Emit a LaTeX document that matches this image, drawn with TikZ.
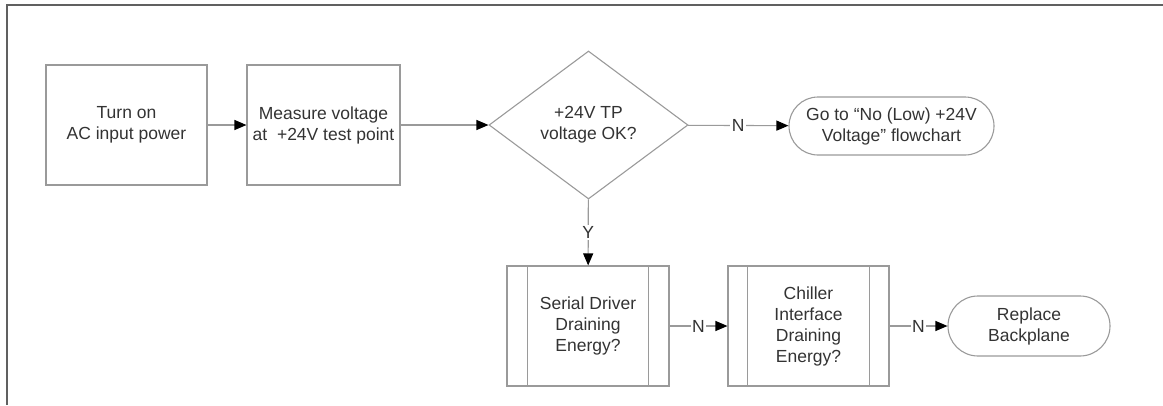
\documentclass[tikz,border=0pt]{standalone}
\usepackage{fontspec}
\setmainfont{Liberation Sans}
\usetikzlibrary{shapes.geometric,shapes.misc,arrows.meta,calc}
\definecolor{txt}{HTML}{333333}
\definecolor{edge}{HTML}{9A9A9A}
\definecolor{frame}{HTML}{606060}
\begin{document}
\begin{tikzpicture}[x=1pt,y=-1pt,
  every node/.style={font=\fontsize{17.5}{21}\selectfont, text=txt, align=center},
  procbox/.style={draw=edge, line width=1.1pt, rectangle, inner sep=0pt},
  decbox/.style={draw=edge, line width=1.1pt, diamond, inner sep=0pt, minimum width=199pt, minimum height=148pt},
  termbox/.style={draw=edge, line width=1.1pt, rounded rectangle, inner sep=0pt},
  conn/.style={draw=edge, line width=1.1pt, -{Triangle[length=12pt,width=10pt,fill=black,color=black]}},
  lbl/.style={fill=white, inner sep=1.5pt}
]
\useasboundingbox (0,0) rectangle (1163,405);
% frame
\draw[frame, line width=2pt] (6.5,405) -- (6.5,4.5) -- (1163,4.5);
% nodes
\node[procbox, minimum width=161pt, minimum height=120pt] (b1) at (126.5,125) {Turn on\\AC input power};
\node[procbox, minimum width=153pt, minimum height=120pt] (b2) at (323.5,125) {Measure voltage\\at\ \ +24V test point};
\node[decbox] (d1) at (588.5,125) {+24V TP\\voltage OK?};
\node[termbox, minimum width=205pt, minimum height=58pt] (t1) at (891.5,126) {Go to “No (Low) +24V\\Voltage” flowchart};
\node[procbox, minimum width=162pt, minimum height=120pt] (b3) at (588,326) {Serial Driver\\Draining\\Energy?};
\node[procbox, minimum width=161pt, minimum height=120pt] (b4) at (808.5,326) {Chiller\\Interface\\Draining\\Energy?};
\node[termbox, minimum width=162pt, minimum height=60pt] (t2) at (1029,326) {Replace\\Backplane};
% inner bars of predefined processes
\draw[edge, line width=1.1pt] ($(b3.north west)+(21,0)$) -- ($(b3.south west)+(21,0)$);
\draw[edge, line width=1.1pt] ($(b3.north east)+(-21,0)$) -- ($(b3.south east)+(-21,0)$);
\draw[edge, line width=1.1pt] ($(b4.north west)+(20,0)$) -- ($(b4.south west)+(20,0)$);
\draw[edge, line width=1.1pt] ($(b4.north east)+(-20,0)$) -- ($(b4.south east)+(-20,0)$);
% connectors
\draw[conn] (b1) -- (b2);
\draw[conn] (b2) -- (d1);
\draw[conn] (d1) -- node[lbl] {N} (t1);
\draw[conn] (d1) -- node[lbl] {Y} (b3);
\draw[conn] (b3) -- node[lbl] {N} (b4);
\draw[conn] (b4) -- node[lbl] {N} (t2);
\end{tikzpicture}
\end{document}
